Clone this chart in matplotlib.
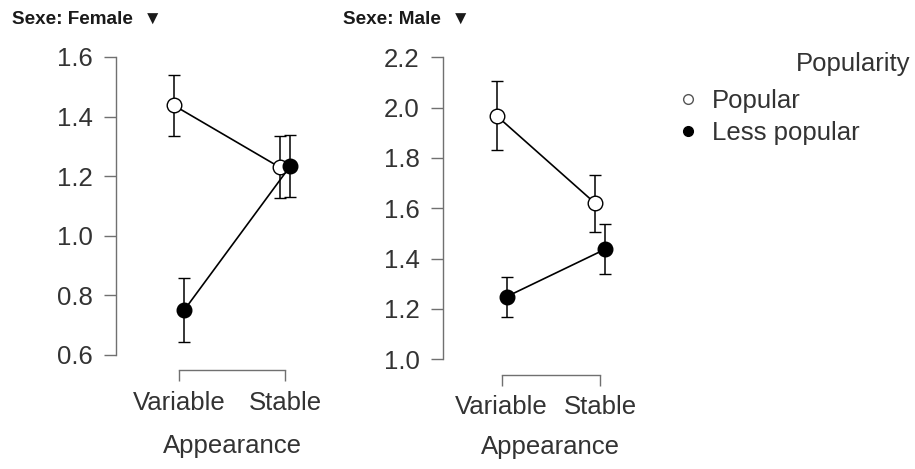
import numpy as np
import matplotlib
matplotlib.use("Agg")
import matplotlib.pyplot as plt
from matplotlib.lines import Line2D
from matplotlib.ticker import FormatStrFormatter
from matplotlib import transforms

plt.rcParams['font.family'] = ['Liberation Sans', 'DejaVu Sans']

categories = ["Variable", "Stable"]
groups = ["Popular", "Less popular"]

# Sexe: Female
female_pop_mean = [1.438, 1.230]
female_pop_lo = [1.336, 1.126]
female_pop_hi = [1.539, 1.336]
female_less_mean = [0.751, 1.234]
female_less_lo = [0.645, 1.129]
female_less_hi = [0.859, 1.338]
female_ticks = [0.6, 0.8, 1.0, 1.2, 1.4, 1.6]

# Sexe: Male
male_pop_mean = [1.967, 1.620]
male_pop_lo = [1.832, 1.507]
male_pop_hi = [2.106, 1.732]
male_less_mean = [1.249, 1.437]
male_less_lo = [1.169, 1.338]
male_less_hi = [1.328, 1.538]
male_ticks = [1.0, 1.2, 1.4, 1.6, 1.8, 2.0, 2.2]

W, H = 915, 469
fig = plt.figure(figsize=(W / 100, H / 100), dpi=100)

spine_col = "#707070"
text_col = "#333333"
fs = 18.5
dodge = 0.05


def panel(rect, ticks, pop, less, title, title_x, label_y):
    ax = fig.add_axes(rect)
    x = np.arange(len(categories))
    for (mean, lo, hi), fc, off in [(pop, "white", -dodge), (less, "black", dodge)]:
        mean = np.array(mean)
        err = [mean - np.array(lo), np.array(hi) - mean]
        ax.errorbar(x + off, mean, yerr=err, color="black", lw=1.2,
                    elinewidth=1.1, capsize=4.5, capthick=1.1,
                    marker="o", ms=10.5, mfc=fc, mec="black", mew=1.0,
                    clip_on=False, zorder=3)
    ax.set_xlim(-0.594, 1.236)
    ax.set_ylim(ticks[0], ticks[-1])
    ax.set_yticks(ticks)
    ax.yaxis.set_major_formatter(FormatStrFormatter('%.1f'))
    ax.set_xticks(x)
    ax.set_xticklabels(categories)
    for s in ["top", "right"]:
        ax.spines[s].set_visible(False)
    ax.spines["bottom"].set_position(("outward", 11))
    ax.spines["bottom"].set_bounds(0, 1)
    for s in ["left", "bottom"]:
        ax.spines[s].set_color(spine_col)
        ax.spines[s].set_linewidth(1.0)
    ax.tick_params(axis="y", length=9, width=1.0, color=spine_col,
                   labelsize=fs, labelcolor=text_col, pad=8)
    ax.tick_params(axis="x", length=8, width=1.0, color=spine_col,
                   labelsize=fs, labelcolor=text_col, pad=7)
    ax.set_xlabel("Appearance", fontsize=fs, color=text_col, va="center")
    tr = transforms.blended_transform_factory(ax.transData, ax.transAxes)
    ax.xaxis.set_label_coords(0.5, label_y, transform=tr)
    ax.patch.set_visible(False)
    fig.text(title_x / W, 1 - 19 / H, title, fontsize=13.6, fontweight="bold",
             color="#1a1a1a", ha="left", va="center")
    return ax


panel([116 / W, 1 - 355 / H, 194 / W, 298 / H], female_ticks,
      (female_pop_mean, female_pop_lo, female_pop_hi),
      (female_less_mean, female_less_lo, female_less_hi),
      "Sexe: Female  \u25bc", 12, -(446 - 355) / 298)
panel([443.3 / W, 1 - 359.3 / H, 180 / W, 302 / H], male_ticks,
      (male_pop_mean, male_pop_lo, male_pop_hi),
      (male_less_mean, male_less_lo, male_less_hi),
      "Sexe: Male  \u25bc", 343, -(447 - 359.3) / 302)

handles = [Line2D([], [], ls="none", marker="o", ms=7, mfc=fc, mec=ec, mew=1.0)
           for fc, ec in [("white", "#555555"), ("black", "black")]]
fig.text(910 / W, 1 - 64 / H, "Popularity", fontsize=fs, color=text_col,
         ha="right", va="center")
fig.legend(handles, groups, loc="upper left",
           bbox_to_anchor=(678.6 / W, 1 - 89 / H), frameon=False,
           fontsize=fs, handlelength=0.75, handletextpad=0.55,
           labelspacing=0.3, borderpad=0, borderaxespad=0,
           labelcolor=text_col)

fig.savefig("out.png", dpi=100)
